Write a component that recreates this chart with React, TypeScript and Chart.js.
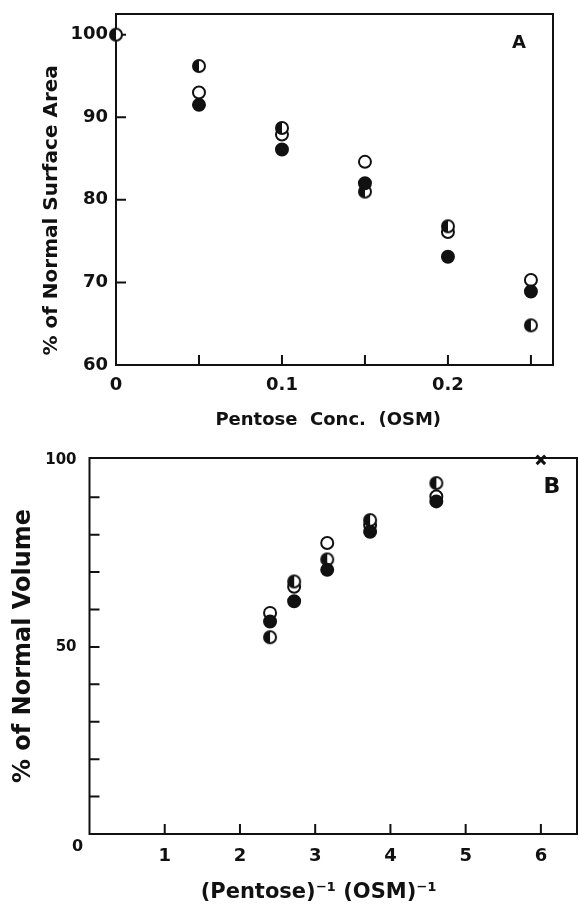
import React, { useEffect, useRef } from "react";
import { Chart, registerables } from "chart.js";

Chart.register(...registerables);

// ---------- data ----------
// Panel A
const concA = [0, 0.05, 0.1, 0.15, 0.2, 0.25];
const areaOpen = [null, 93.0, 87.9, 84.6, 76.1, 70.3];
const areaFilled = [null, 91.5, 86.1, 82.0, 73.1, 68.9];
const areaHalf = [100, 96.2, 88.7, 81.0, 76.8, 64.8];
const xTicksA = [0, 0.1, 0.2];

// Panel B
const invConcB = [2.4, 2.72, 3.16, 3.73, 4.61];
const volOpen = [59.1, 66.1, 77.8, 82.6, 90.2];
const volFilled = [56.8, 62.2, 70.6, 80.8, 88.9];
const volHalf = [52.6, 67.5, 73.4, 83.9, 93.8];
const crossX = [6];
const crossY = [100];
const yLabelsB = [50, 100];

const INK = "#111111";
const FONT = "'DejaVu Sans', sans-serif";

function pts(xs: number[], ys: (number | null)[]) {
  const out: { x: number; y: number }[] = [];
  xs.forEach((x, i) => {
    const y = ys[i];
    if (y !== null && y !== undefined) out.push({ x, y });
  });
  return out;
}

function halfMarker(): HTMLCanvasElement {
  const c = document.createElement("canvas");
  c.width = 16;
  c.height = 16;
  const g = c.getContext("2d")!;
  g.fillStyle = "#ffffff";
  g.beginPath();
  g.arc(8, 8, 6, 0, Math.PI * 2);
  g.fill();
  g.fillStyle = INK;
  g.beginPath();
  g.arc(8, 8, 6, Math.PI / 2, (Math.PI * 3) / 2);
  g.closePath();
  g.fill();
  g.strokeStyle = INK;
  g.lineWidth = 2;
  g.beginPath();
  g.arc(8, 8, 6, 0, Math.PI * 2);
  g.stroke();
  return c;
}

const framePlugin = {
  id: "frame",
  beforeDatasetsDraw(chart: any, _args: any, opts: any) {
    const { ctx, chartArea: a } = chart;
    const xs = chart.scales.x;
    const ys = chart.scales.y;
    ctx.save();
    ctx.strokeStyle = INK;
    ctx.lineWidth = 2;
    ctx.strokeRect(a.left, a.top, a.right - a.left, a.bottom - a.top);
    const len = opts.tick || 10;
    ctx.beginPath();
    xs.ticks.forEach((t: any) => {
      const px = xs.getPixelForValue(t.value);
      if (px <= a.left + 2 || px >= a.right - 2) return;
      ctx.moveTo(px, a.bottom);
      ctx.lineTo(px, a.bottom - len);
    });
    ys.ticks.forEach((t: any) => {
      const py = ys.getPixelForValue(t.value);
      if (py >= a.bottom - 2 || py <= a.top + 2) return;
      ctx.moveTo(a.left, py);
      ctx.lineTo(a.left + len, py);
    });
    ctx.stroke();
    ctx.fillStyle = INK;
    ctx.textAlign = "center";
    ctx.textBaseline = "middle";
    if (opts.panel) {
      ctx.font = `bold ${opts.panelSize}px ${FONT}`;
      ctx.fillText(opts.panel, a.right + opts.panelDx, a.top + opts.panelDy);
    }
    if (opts.origin) {
      ctx.font = `bold ${opts.originSize}px ${FONT}`;
      ctx.fillText(
        "0",
        xs.getPixelForValue(0) - 12,
        ys.getPixelForValue(0) + 13
      );
    }
    ctx.restore();
  },
};

function circleSet(label: string, data: any[], fill: string, order: number) {
  return {
    label,
    data,
    pointStyle: "circle",
    pointRadius: 6,
    pointBorderWidth: 2,
    pointBackgroundColor: fill,
    pointBorderColor: INK,
    showLine: false,
    clip: false,
    order,
  };
}

function halfSet(label: string, data: any[], order: number) {
  return {
    label,
    data,
    pointStyle: halfMarker(),
    pointRadius: 7,
    showLine: false,
    clip: false,
    order,
  };
}

function App() {
  const refA = useRef<HTMLCanvasElement>(null);
  const refB = useRef<HTMLCanvasElement>(null);

  useEffect(() => {
    const chartA = new Chart(refA.current!, {
      type: "scatter",
      data: {
        datasets: [
          circleSet("filled", pts(concA, areaFilled), INK, 0),
          halfSet("half", pts(concA, areaHalf), 1),
          circleSet("open", pts(concA, areaOpen), "#ffffff", 2),
        ],
      },
      plugins: [framePlugin],
      options: {
        animation: false,
        responsive: false,
        layout: {
          autoPadding: false,
          padding: { left: 0, right: 26, top: 14, bottom: 0 },
        },
        plugins: {
          legend: { display: false },
          tooltip: { enabled: false },
          frame: { tick: 10, panel: "A", panelSize: 18, panelDx: -34, panelDy: 29 },
        } as any,
        scales: {
          x: {
            type: "linear",
            min: 0,
            max: 0.2633,
            grid: { display: false },
            border: { display: false },
            afterFit: (s: any) => {
              s.height = 75;
            },
            ticks: {
              stepSize: 0.05,
              includeBounds: false,
              autoSkip: false,
              maxRotation: 0,
              padding: 2,
              color: INK,
              font: { family: FONT, size: 18, weight: "bold" },
              callback: (v: any) => {
                const hit = xTicksA.find((t) => Math.abs(t - v) < 1e-6);
                return hit === undefined ? "" : hit === 0 ? "0" : hit.toFixed(1);
              },
            },
            title: {
              display: true,
              text: "Pentose  Conc.  (OSM)  ",
              color: INK,
              font: { family: FONT, size: 18, weight: "bold" },
              padding: { top: 0, bottom: 9 },
            },
          },
          y: {
            type: "linear",
            min: 60,
            max: 102.5,
            grid: { display: false },
            border: { display: false },
            afterFit: (s: any) => {
              s.width = 116;
            },
            ticks: {
              stepSize: 10,
              includeBounds: false,
              padding: 0,
              color: INK,
              font: { family: FONT, size: 18, weight: "bold" },
              callback: (v: any) => String(Math.round(v)),
            },
            title: {
              display: true,
              text: "% of Normal Surface Area      ",
              color: INK,
              font: { family: FONT, size: 20, weight: "bold" },
              padding: { top: 40, bottom: 0 },
            },
          },
        },
      } as any,
    });

    const chartB = new Chart(refB.current!, {
      type: "scatter",
      data: {
        datasets: [
          circleSet("filled", pts(invConcB, volFilled), INK, 1),
          halfSet("half", pts(invConcB, volHalf), 2),
          circleSet("open", pts(invConcB, volOpen), "#ffffff", 3),
          {
            label: "cross",
            data: pts(crossX, crossY),
            pointStyle: "crossRot",
            pointRadius: 6,
            pointBorderWidth: 3,
            pointBorderColor: INK,
            showLine: false,
            clip: false,
            order: 0,
          } as any,
        ],
      },
      plugins: [framePlugin],
      options: {
        animation: false,
        responsive: false,
        layout: {
          autoPadding: false,
          padding: { left: 0, right: 2, top: 18, bottom: 0 },
        },
        plugins: {
          legend: { display: false },
          tooltip: { enabled: false },
          frame: {
            tick: 10,
            panel: "B",
            panelSize: 22,
            panelDx: -25,
            panelDy: 29,
            origin: true,
            originSize: 16,
          },
        } as any,
        scales: {
          x: {
            type: "linear",
            min: 0,
            max: 6.48,
            grid: { display: false },
            border: { display: false },
            afterFit: (s: any) => {
              s.height = 73;
            },
            ticks: {
              stepSize: 1,
              includeBounds: false,
              autoSkip: false,
              maxRotation: 0,
              padding: 4,
              color: INK,
              font: { family: FONT, size: 18, weight: "bold" },
              callback: (v: any) => (v === 0 ? "" : String(v)),
            },
            title: {
              display: true,
              text: "(Pentose)\u207B\u00B9 (OSM)\u207B\u00B9    ",
              color: INK,
              font: { family: FONT, size: 21, weight: "bold" },
              padding: { top: 0, bottom: 2 },
            },
          },
          y: {
            type: "linear",
            min: 0,
            max: 100.5,
            grid: { display: false },
            border: { display: false },
            afterFit: (s: any) => {
              s.width = 89.5;
            },
            ticks: {
              stepSize: 10,
              includeBounds: false,
              padding: 5,
              color: INK,
              font: { family: FONT, size: 15, weight: "bold" },
              callback: (v: any) =>
                yLabelsB.includes(Math.round(v)) ? String(Math.round(v)) : "",
            },
            title: {
              display: true,
              text: "% of Normal Volume",
              color: INK,
              font: { family: FONT, size: 24, weight: "bold" },
              padding: { top: 9, bottom: 0 },
            },
          },
        },
      } as any,
    });

    return () => {
      chartA.destroy();
      chartB.destroy();
    };
  }, []);

  return (
    <div
      style={{
        position: "absolute",
        left: 0,
        top: 0,
        width: 579,
        height: 907,
        background: "#ffffff",
      }}
    >
      <canvas
        ref={refA}
        width={579}
        height={440}
        style={{ display: "block", width: 579, height: 440 }}
      />
      <canvas
        ref={refB}
        width={579}
        height={467}
        style={{ display: "block", width: 579, height: 467 }}
      />
    </div>
  );
}

export default App;
